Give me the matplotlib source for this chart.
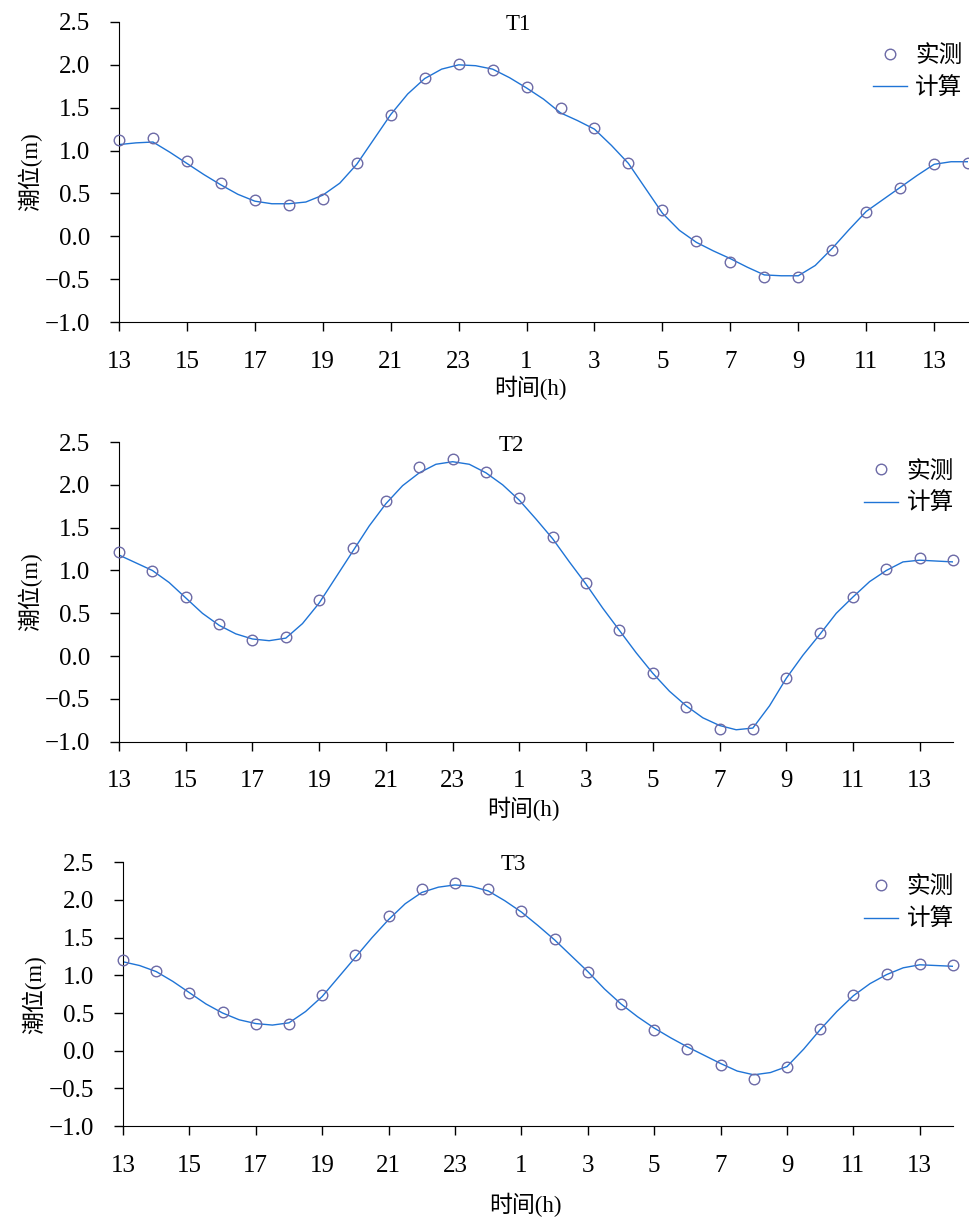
import numpy as np
import matplotlib
matplotlib.use("Agg")
import matplotlib.pyplot as plt

plt.rcParams['font.family'] = ['Liberation Serif', 'Noto Sans CJK SC']

# hours since 13:00 on day one; observed hourly, computed every half hour
obs_hours = list(range(26))
calc_hours = [h / 2 for h in range(51)]
tick_pos = list(range(0, 25, 2))
tick_labels = ['13', '15', '17', '19', '21', '23', '1', '3', '5', '7', '9', '11', '13']
ytick_pos = [-1.0, -0.5, 0.0, 0.5, 1.0, 1.5, 2.0, 2.5]
ytick_labels = ['\u22121.0', '\u22120.5', '0.0', '0.5', '1.0', '1.5', '2.0', '2.5']

t1_obs = [1.12, 1.15, 0.88, 0.62, 0.42, 0.36, 0.43, 0.85, 1.415, 1.85, 2.01, 1.94, 1.745,
          1.50, 1.26, 0.86, 0.31, -0.05, -0.30, -0.475, -0.475, -0.16, 0.28, 0.56, 0.84, 0.86]
t1_calc = [1.07, 1.09, 1.10, 0.98, 0.85, 0.72, 0.60, 0.49, 0.41, 0.38, 0.38, 0.40, 0.48,
           0.62, 0.84, 1.13, 1.42, 1.66, 1.84, 1.95, 2.00, 1.99, 1.95, 1.85, 1.73, 1.60,
           1.44, 1.35, 1.25, 1.06, 0.85, 0.56, 0.27, 0.07, -0.07, -0.17, -0.26, -0.36,
           -0.45, -0.46, -0.46, -0.34, -0.14, 0.08, 0.29, 0.43, 0.57, 0.71, 0.84, 0.87, 0.87]

t2_obs = [1.22, 0.99, 0.685, 0.37, 0.19, 0.22, 0.65, 1.26, 1.81, 2.21, 2.30, 2.15, 1.845,
          1.39, 0.85, 0.30, -0.20, -0.59, -0.85, -0.85, -0.26, 0.27, 0.685, 1.02, 1.15, 1.125]
t2_calc = [1.18, 1.09, 1.00, 0.86, 0.68, 0.50, 0.36, 0.26, 0.20, 0.18, 0.21, 0.38, 0.62,
           0.92, 1.22, 1.52, 1.78, 1.99, 2.14, 2.24, 2.27, 2.24, 2.14, 2.00, 1.82, 1.60,
           1.37, 1.10, 0.84, 0.56, 0.30, 0.04, -0.20, -0.41, -0.58, -0.72, -0.81, -0.86,
           -0.84, -0.58, -0.26, 0.01, 0.25, 0.50, 0.69, 0.87, 1.00, 1.10, 1.12, 1.11, 1.10]

t3_obs = [1.21, 1.06, 0.77, 0.51, 0.35, 0.36, 0.74, 1.27, 1.79, 2.14, 2.23, 2.14, 1.85,
          1.48, 1.04, 0.615, 0.28, 0.02, -0.195, -0.37, -0.21, 0.29, 0.735, 1.02, 1.155, 1.14]
t3_calc = [1.18, 1.13, 1.05, 0.92, 0.77, 0.62, 0.50, 0.41, 0.36, 0.34, 0.37, 0.52, 0.72,
           0.98, 1.24, 1.50, 1.74, 1.95, 2.10, 2.17, 2.20, 2.18, 2.12, 1.99, 1.84, 1.66,
           1.47, 1.26, 1.05, 0.82, 0.62, 0.45, 0.30, 0.17, 0.05, -0.06, -0.17, -0.27,
           -0.32, -0.29, -0.21, 0.02, 0.28, 0.52, 0.73, 0.89, 1.01, 1.10, 1.14, 1.13, 1.12]

panels = [
    ('T1', t1_obs, t1_calc, [0.1227, 0.736, 0.8753, 0.246], 2, (1.01, 0.97)),
    ('T2', t2_obs, t2_calc, [0.1227, 0.392, 0.8598, 0.2457], 3, (1.018, 0.985)),
    ('T3', t3_obs, t3_calc, [0.1268, 0.077, 0.8557, 0.2162], 12, (1.018, 1.0)),
]

fig = plt.figure(figsize=(9.7, 12.2), dpi=100)

for name, obs, calc, rect, xlpad, leg_anchor in panels:
    ax = fig.add_axes(rect)
    ax.plot(calc_hours, calc, color='#1f74d6', lw=1.0, label='计算', zorder=2)
    ax.plot(obs_hours, obs, ls='none', marker='o', ms=7.6, mfc='none',
            mec='#6c6aa6', mew=1.0, label='实测', zorder=3, clip_on=False)
    ax.set_xlim(0, 25)
    ax.set_ylim(-1.0, 2.5)
    ax.set_yticks(ytick_pos)
    ax.set_yticklabels(ytick_labels)
    ax.set_xticks(tick_pos)
    ax.set_xticklabels(tick_labels)
    for s in ['top', 'right']:
        ax.spines[s].set_visible(False)
    ax.tick_params(axis='both', direction='out', length=6.5, width=1.0, labelsize=18)
    ax.tick_params(axis='x', pad=14)
    ax.tick_params(axis='y', pad=14)
    ax.set_ylabel('潮位(m)', fontsize=16.5, labelpad=2)
    ax.set_xlabel('时间(h)', fontsize=16.5, labelpad=xlpad)
    ax.xaxis.label.set_x(0.485)
    ax.text(0.47, 0.99, name, transform=ax.transAxes, ha='center', va='center', fontsize=16.5)
    h, l = ax.get_legend_handles_labels()
    ax.legend(h[::-1], l[::-1], loc='upper right', bbox_to_anchor=leg_anchor, frameon=False,
              fontsize=17, handlelength=1.45, handletextpad=0.35, labelspacing=0.45,
              borderaxespad=0.2)

fig.savefig('out.png', dpi=100)
